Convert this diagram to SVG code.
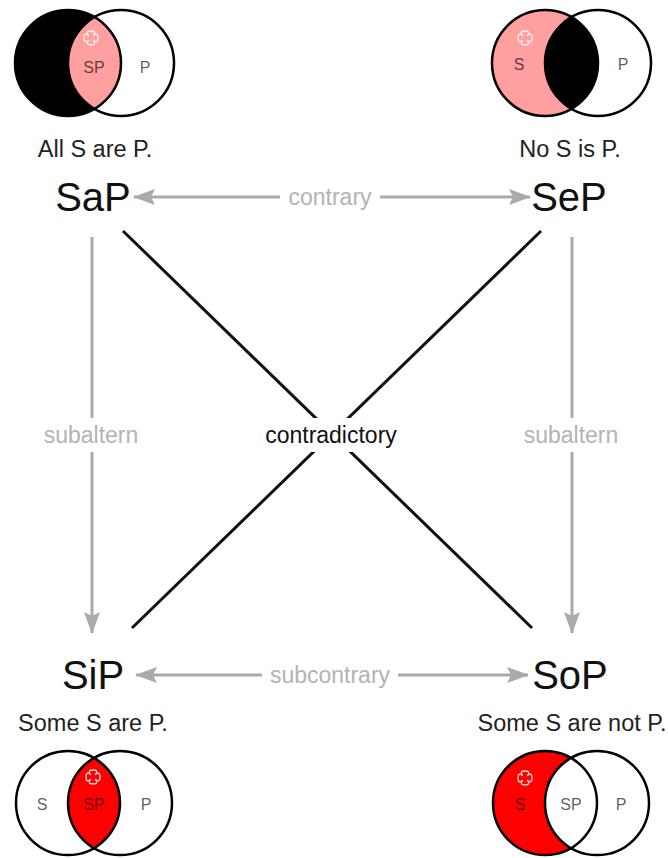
<svg xmlns="http://www.w3.org/2000/svg" width="668" height="858" viewBox="0 0 668 858">
  <style>
    text { font-family: "Liberation Sans", Arial, sans-serif; }
    .big { font-size: 40px; fill: #111; text-anchor: middle; }
    .desc { font-size: 23.5px; fill: #222; text-anchor: middle; }
    .rel { font-size: 23px; fill: #b3b3b3; text-anchor: middle; }
    .relk { font-size: 23px; fill: #111; text-anchor: middle; }
    .vl { font-size: 16px; fill: #000; fill-opacity: 0.65; text-anchor: middle; }
    .ring { fill: none; stroke: #000; stroke-width: 2.5; }
    .gray { stroke: #aaa; stroke-width: 3; fill: none; }
    .blk { stroke: #111; stroke-width: 3; fill: none; }
    .mark { fill: none; stroke: #fff; stroke-width: 1.3; stroke-opacity: 0.85; stroke-linejoin: round; }
    .gap { fill: #fff; }
  </style>
  <defs>
    <marker id="ah" viewBox="0 0 22 16" refX="21" refY="8" markerWidth="22" markerHeight="16" markerUnits="userSpaceOnUse" orient="auto-start-reverse">
      <path d="M0,0 L22,8 L0,16 L4,8 Z" fill="#aaa"/>
    </marker>
    <!-- four-lobed existence mark -->
    <path id="cross" d="M-2.5,-2.5 Q-6,-7 0,-7 Q6,-7 2.5,-2.5 Q7,-6 7,0 Q7,6 2.5,2.5 Q6,7 0,7 Q-6,7 -2.5,2.5 Q-7,6 -7,0 Q-7,-6 -2.5,-2.5 Z"/>
    <clipPath id="clipTL"><circle cx="68" cy="63" r="53"/></clipPath>
    <clipPath id="clipTR"><circle cx="545" cy="63" r="53"/></clipPath>
    <clipPath id="clipBL"><circle cx="68" cy="803" r="52"/></clipPath>
    <clipPath id="clipBR"><circle cx="545" cy="803" r="52"/></clipPath>
  </defs>
  <rect width="668" height="858" fill="#fff"/>

  <!-- connectors -->
  <g id="connectors">
    <line class="gray" x1="162" y1="197" x2="134" y2="197" marker-end="url(#ah)" />
    <line class="gray" x1="162" y1="197" x2="530" y2="197" marker-end="url(#ah)" />
    <line class="gray" x1="162" y1="675" x2="136" y2="675" marker-end="url(#ah)" />
    <line class="gray" x1="162" y1="675" x2="528" y2="675" marker-end="url(#ah)" />
    <line class="gray" x1="92" y1="237" x2="92" y2="633" marker-end="url(#ah)" />
    <line class="gray" x1="572" y1="237" x2="572" y2="633" marker-end="url(#ah)" />
    <line class="blk" x1="123" y1="231" x2="532" y2="628" />
    <line class="blk" x1="541" y1="231" x2="132" y2="628" />
    <rect class="gap" x="280" y="182" width="100" height="30"/>
    <text class="rel" x="330" y="205">contrary</text>
    <rect class="gap" x="262" y="660" width="136" height="30"/>
    <text class="rel" x="330" y="683">subcontrary</text>
    <rect class="gap" x="36" y="418" width="110" height="34"/>
    <text class="rel" x="91" y="443">subaltern</text>
    <rect class="gap" x="516" y="418" width="112" height="34"/>
    <text class="rel" x="571" y="443">subaltern</text>
    <rect class="gap" x="256" y="418" width="150" height="34"/>
    <text class="relk" x="331" y="443">contradictory</text>
  </g>

  <!-- A: universal affirmative -->
  <g id="SaP">
    <circle cx="68" cy="63" r="53" fill="#000"/>
    <circle cx="121" cy="63" r="53" fill="#ff9f9f" clip-path="url(#clipTL)"/>
    <circle class="ring" cx="68" cy="63" r="53"/>
    <circle class="ring" cx="121" cy="63" r="53"/>
    <use href="#cross" class="mark" x="91" y="38"/>
    <text class="vl" x="94" y="73">SP</text>
    <text class="vl" x="145" y="73">P</text>
    <text class="desc" x="95" y="157">All S are P.</text>
    <text class="big" x="93" y="211">SaP</text>
  </g>

  <!-- E: universal negative -->
  <g id="SeP">
    <circle cx="545" cy="63" r="53" fill="#ff9f9f"/>
    <circle cx="598" cy="63" r="53" fill="#000" clip-path="url(#clipTR)"/>
    <circle class="ring" cx="545" cy="63" r="53"/>
    <circle class="ring" cx="598" cy="63" r="53"/>
    <use href="#cross" class="mark" x="525" y="38"/>
    <text class="vl" x="519" y="70">S</text>
    <text class="vl" x="623" y="70">P</text>
    <text class="desc" x="570" y="157">No S is P.</text>
    <text class="big" x="569" y="211">SeP</text>
  </g>

  <!-- I: particular affirmative -->
  <g id="SiP">
    <text class="big" x="93" y="689">SiP</text>
    <text class="desc" x="93" y="731">Some S are P.</text>
    <circle cx="68" cy="803" r="52" fill="#fff"/>
    <circle cx="120" cy="803" r="52" fill="#ff0000" clip-path="url(#clipBL)"/>
    <circle class="ring" cx="68" cy="803" r="52"/>
    <circle class="ring" cx="120" cy="803" r="52"/>
    <use href="#cross" class="mark" x="93" y="777"/>
    <text class="vl" x="42" y="810">S</text>
    <text class="vl" x="94" y="810">SP</text>
    <text class="vl" x="146" y="810">P</text>
  </g>

  <!-- O: particular negative -->
  <g id="SoP">
    <text class="big" x="570" y="689">SoP</text>
    <text class="desc" x="572" y="731">Some S are not P.</text>
    <circle cx="545" cy="803" r="52" fill="#ff0000"/>
    <circle cx="597" cy="803" r="52" fill="#fff" clip-path="url(#clipBR)"/>
    <circle class="ring" cx="545" cy="803" r="52"/>
    <circle class="ring" cx="597" cy="803" r="52"/>
    <use href="#cross" class="mark" x="525" y="778"/>
    <text class="vl" x="520" y="810">S</text>
    <text class="vl" x="571" y="810">SP</text>
    <text class="vl" x="621" y="810">P</text>
  </g>
</svg>
